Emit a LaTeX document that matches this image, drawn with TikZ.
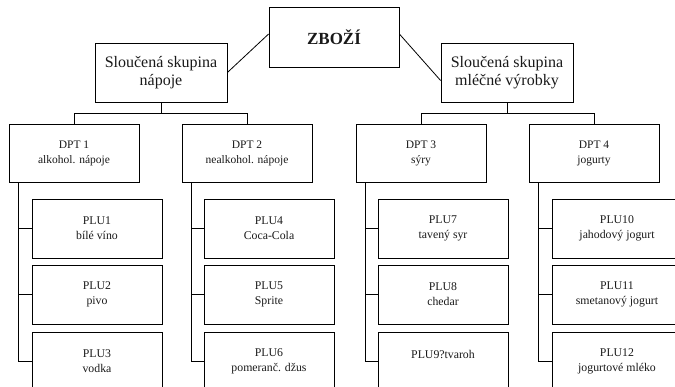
\documentclass[tikz,border=0pt]{standalone}
\usepackage{fontspec}
\setmainfont{Liberation Serif}
\begin{document}
\begin{tikzpicture}[x=1pt, y=-1pt,
    box/.style={draw, line width=0.8pt, align=center, inner sep=0pt, text=black!90},
    topbox/.style={box, minimum width=130pt, minimum height=60pt, font=\fontsize{17}{20}\selectfont\bfseries},
    groupbox/.style={box, minimum width=132pt, minimum height=59pt, font=\fontsize{16}{18}\selectfont},
    dptbox/.style={box, minimum width=130pt, minimum height=58pt, font=\fontsize{11.5}{15}\selectfont},
    plubox/.style={box, minimum width=130pt, minimum height=59pt, font=\fontsize{11.8}{15}\selectfont},
    link/.style={line width=0.8pt}]
    \useasboundingbox (0,0) rectangle (675,386);

    \node[topbox] (zbozi) at (334, 37) {ZBOŽÍ};
    \node[groupbox] (napoje) at (161, 72.5) {Sloučená skupina\\nápoje};
    \node[groupbox] (mlecne) at (507, 72.5) {Sloučená skupina\\mléčné výrobky};

    \node[dptbox] (dpt1) at (74, 153) {DPT 1\\alkohol. nápoje};
    \node[dptbox] (dpt2) at (247, 153) {DPT 2\\nealkohol. nápoje};
    \node[dptbox] (dpt3) at (421, 153) {DPT 3\\sýry};
    \node[dptbox] (dpt4) at (594, 153) {DPT 4\\jogurty};

    \node[plubox] (plu1) at (97, 228.5) {PLU1\\bílé víno};
    \node[plubox] (plu2) at (97, 294.5) {PLU2\\pivo};
    \node[plubox] (plu3) at (97, 361.5) {PLU3\\vodka};

    \node[plubox] (plu4) at (269, 228.5) {PLU4\\Coca-Cola};
    \node[plubox] (plu5) at (269, 294.5) {PLU5\\Sprite};
    \node[plubox] (plu6) at (269, 361.5) {PLU6\\pomeranč. džus};

    \node[plubox] (plu7) at (443, 228.5) {PLU7\\tavený syr};
    \node[plubox] (plu8) at (443, 294.5) {PLU8\\chedar};
    \node[plubox] (plu9) at (443, 361.5) {PLU9?tvaroh\\\mbox{}};

    \node[plubox] (plu10) at (617, 228.5) {PLU10\\jahodový jogurt};
    \node[plubox] (plu11) at (617, 294.5) {PLU11\\smetanový jogurt};
    \node[plubox] (plu12) at (617, 361.5) {PLU12\\jogurtové mléko};

    \draw[link] ([yshift=3pt]zbozi.west) -- (napoje.east);
    \draw[link] ([yshift=3pt]zbozi.east) -- ([yshift=-8pt]mlecne.west);

    \draw[link] (napoje.south) -- ++(0, 10.5) coordinate (bus1);
    \draw[link] (dpt1.north) |- (bus1) -| (dpt2.north);
    \draw[link] (mlecne.south) -- ++(0, 10.5) coordinate (bus2);
    \draw[link] (dpt3.north) |- (bus2) -| (dpt4.north);

    \coordinate (d1) at ([xshift=9.5pt]dpt1.south west);
    \coordinate (d2) at ([xshift=9.5pt]dpt2.south west);
    \coordinate (d3) at ([xshift=9.5pt]dpt3.south west);
    \coordinate (d4) at ([xshift=9.5pt]dpt4.south west);
    \draw[link] (d1) |- (plu1.west) (d1) |- (plu2.west) (d1) |- (plu3.west);
    \draw[link] (d2) |- (plu4.west) (d2) |- (plu5.west) (d2) |- (plu6.west);
    \draw[link] (d3) |- (plu7.west) (d3) |- (plu8.west) (d3) |- (plu9.west);
    \draw[link] (d4) |- (plu10.west) (d4) |- (plu11.west) (d4) |- (plu12.west);
\end{tikzpicture}
\end{document}
